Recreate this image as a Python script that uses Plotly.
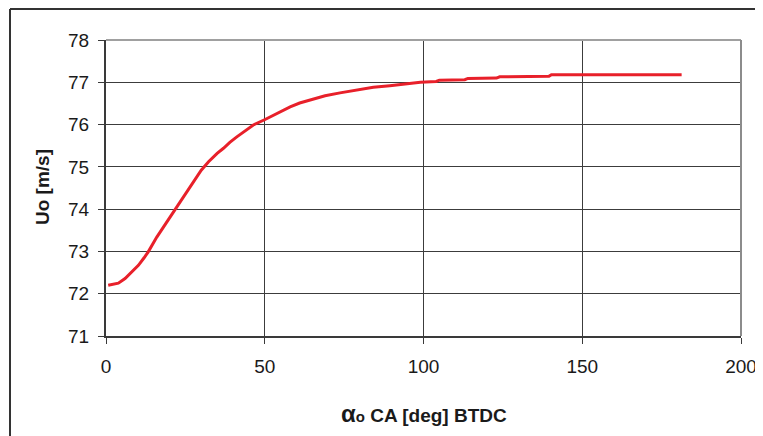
import plotly.graph_objects as go

# Crank angle before TDC [deg] and velocity Uo [m/s]
crank_angle = [0.7, 2.5, 3.9, 6.0, 8.0, 10.2, 12.0, 13.3, 16.0, 19.0, 21.7, 24.5, 27.5, 30.0,
               32.3, 35.0, 37.0, 39.0, 41.2, 44.0, 46.4, 50.1, 54.0, 58.0, 61.0, 64.3, 69.0,
               73.7, 79.0, 84.2, 89.4, 94.0, 99.0, 104.0, 105.0, 113.0, 114.0, 123.0, 124.0,
               139.5, 140.3, 160.0, 181.3]
velocity = [72.20, 72.22, 72.25, 72.36, 72.50, 72.67, 72.85, 72.99, 73.34, 73.68, 73.98,
            74.32, 74.65, 74.92, 75.12, 75.32, 75.44, 75.58, 75.71, 75.87, 75.99, 76.12,
            76.27, 76.42, 76.51, 76.58, 76.68, 76.75, 76.82, 76.88, 76.92, 76.96, 77.00,
            77.02, 77.05, 77.06, 77.09, 77.10, 77.13, 77.14, 77.18, 77.18, 77.18]

x_ticks = [0, 50, 100, 150, 200]
y_ticks = [71, 72, 73, 74, 75, 76, 77, 78]

fig = go.Figure()
fig.add_trace(go.Scatter(x=crank_angle, y=velocity, mode="lines",
                         line=dict(color="#e8202a", width=3), showlegend=False))

# page is offset by the 8px body margin; figure pixel = page pixel - 8
W, H = 763, 436
L, T = 98, 32
pw, ph = 635, 296
R, B = W - L - pw, H - T - ph

def px(xp):
    return (xp - L) / pw

def py(yp):
    return (T + ph - yp) / ph

fig.update_layout(
    width=W, height=H,
    margin=dict(l=L, r=R, t=T, b=B, autoexpand=False),
    paper_bgcolor="white", plot_bgcolor="white",
    font=dict(family="Liberation Sans, Arial, sans-serif", size=19, color="#1a1a1a"),
    xaxis=dict(range=[0, 200], tickvals=x_ticks, showgrid=True, gridcolor="#3c3c3c",
               gridwidth=1, zeroline=False, showline=True, linecolor="#3a3a3a", linewidth=2,
               ticks="outside", ticklen=6, tickcolor="#3a3a3a", ticklabelstandoff=6,
               mirror=False),
    yaxis=dict(range=[71, 78], tickvals=y_ticks, showgrid=True, gridcolor="#3c3c3c",
               gridwidth=1, zeroline=False, showline=True, linecolor="#3a3a3a", linewidth=2,
               ticks="outside", ticklen=6, tickcolor="#3a3a3a", ticklabelstandoff=5),
    annotations=[
        dict(text="<span style='font-size:24px'>α</span><span style='font-size:15px'>o</span> CA [deg] BTDC",
             xref="paper", yref="paper", x=px(415.5), y=py(405), xanchor="center",
             yanchor="middle", showarrow=False, font=dict(size=19, weight="bold")),
        dict(text="Uo [m/s]", xref="paper", yref="paper", x=px(34), y=py(179),
             xanchor="center", yanchor="middle", textangle=-90, showarrow=False,
             font=dict(size=19, weight="bold")),
    ],
    shapes=[
        # plot area top / right border (light gray)
        dict(type="line", xref="paper", yref="paper", x0=0, x1=1, y0=1, y1=1,
             line=dict(color="#a0a0a0", width=2)),
        dict(type="line", xref="paper", yref="paper", x0=1, x1=1, y0=0, y1=1,
             line=dict(color="#8c8c8c", width=2)),
        # outer chart border
        dict(type="line", xref="paper", yref="paper", x0=px(2), x1=px(770), y0=py(1), y1=py(1),
             line=dict(color="#333333", width=2)),
        dict(type="line", xref="paper", yref="paper", x0=px(2), x1=px(2), y0=py(1), y1=py(440),
             line=dict(color="#333333", width=2)),
    ],
)

fig.write_html("out.html")
